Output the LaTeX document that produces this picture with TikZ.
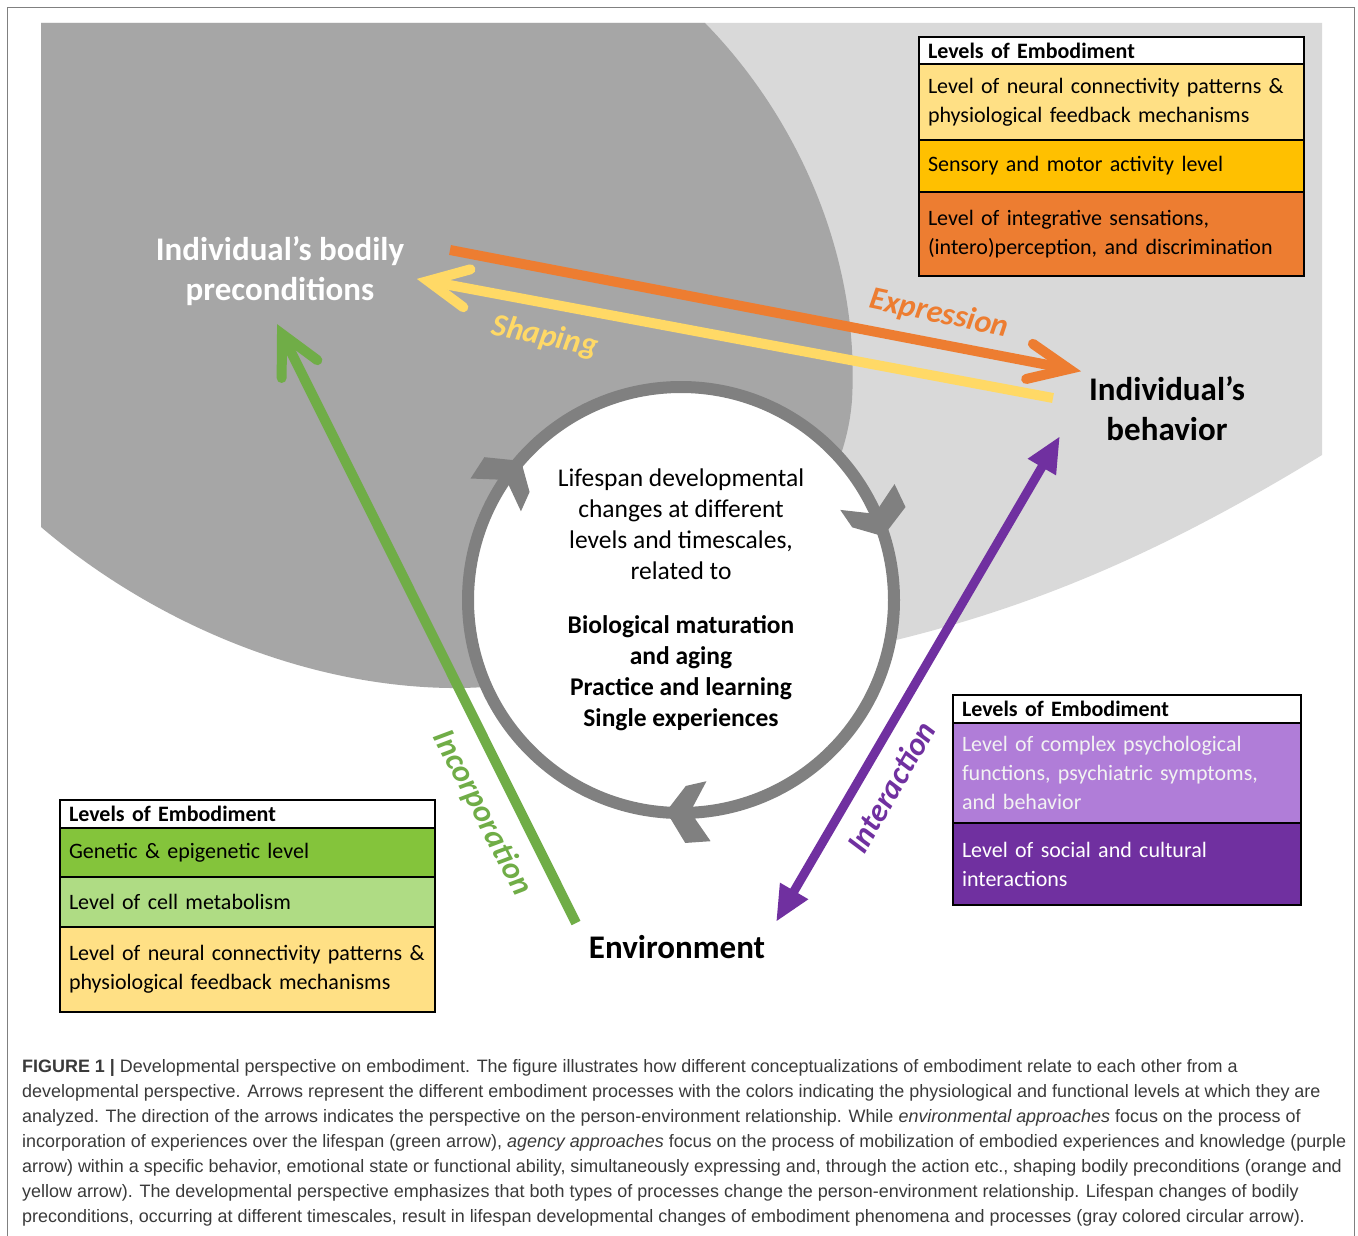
\documentclass[tikz,border=0pt]{standalone}
\usepackage{fontspec}
\setmainfont{Carlito}
\newfontfamily\capfont{Liberation Sans}
\usetikzlibrary{calc,arrows.meta}
\definecolor{dgray}{HTML}{A6A6A6}
\definecolor{lgray}{HTML}{D9D9D9}
\definecolor{ringgray}{HTML}{808080}
\definecolor{orangeA}{HTML}{ED7D31}
\definecolor{yellowA}{HTML}{FFD966}
\definecolor{greenA}{HTML}{70AD47}
\definecolor{purpleA}{HTML}{7030A0}
\definecolor{yellowBox}{HTML}{FFE085}
\definecolor{goldBox}{HTML}{FFC000}
\definecolor{greenBox}{HTML}{84C43B}
\definecolor{lgreenBox}{HTML}{AFDC84}
\definecolor{lpurpleBox}{HTML}{B07DD8}
\definecolor{capgray}{HTML}{3A3A3A}
\definecolor{framegray}{HTML}{808080}
\begin{document}
\begin{tikzpicture}[x=1pt,y=1pt,
  lvbox/.style={draw=black, line width=1.8pt, outer sep=0pt, anchor=north west,
    inner xsep=9pt, inner ysep=0pt, align=left, font=\fontsize{22}{29}\selectfont},
  lvhead/.style={lvbox, fill=white, minimum height=28pt, font=\bfseries\fontsize{22}{29}\selectfont},
  bigtxt/.style={align=center, font=\bfseries\fontsize{33}{40}\selectfont},
  proclab/.style={font=\bfseries\itshape\fontsize{32}{38}\selectfont, inner sep=0pt},
  shaft/.style={line width=10pt},
  chev/.style={line width=10pt, line cap=round, line join=miter},
  capline/.style={anchor=base west, inner sep=0pt, text=capgray, font=\capfont\fontsize{17.95}{25}\selectfont}
]
\useasboundingbox (0,0) rectangle (1358,-1236);
\fill[white] (0,0) rectangle (1358,-1236);
\draw[framegray, line width=1.4pt] (7.5,-1240) -- (7.5,-7.5) -- (1354.5,-7.5) -- (1354.5,-1240);

% background regions
\fill[lgray] (41,-23) -- (1322,-23) -- (1322,-455) .. controls (1150,-560) and (1000,-625) .. (800,-660) -- (600,-500) -- cycle;
\fill[dgray] (41,-23) -- (705,-23) .. controls (800,-120) and (860,-260) .. (852,-400)
  .. controls (840,-560) and (650,-690) .. (450,-688)
  .. controls (300,-686) and (150,-620) .. (41,-527) -- cycle;

% main labels
\node[bigtxt, text=white] (ibp) at (280,-271) {Individual’s bodily\\preconditions};
\node[bigtxt] (ib) at (1167,-409) {Individual’s\\behavior};
\node[bigtxt] (env) at (677,-947) {Environment};

% arrow end points
\coordinate (oS) at (450,-250);
\coordinate (oT) at (1069,-369);
\coordinate (yS) at (1053,-398);
\coordinate (yT) at (428,-281);
\coordinate (gS) at (576,-923);
\coordinate (gT) at (282,-334);
\coordinate (pA) at (776,-922);
\coordinate (pB) at (1060,-436);

% orange: expression
\draw[shaft, orangeA] (oS) -- (oT);
\draw[chev, orangeA] ($(oT)!44pt!24:(oS)$) -- (oT) -- ($(oT)!44pt!-24:(oS)$);
% yellow: shaping
\draw[shaft, yellowA] (yS) -- (yT);
\draw[chev, yellowA] ($(yT)!44pt!26:(yS)$) -- (yT) -- ($(yT)!44pt!-26:(yS)$);
% green: incorporation
\draw[shaft, greenA] (gS) -- (gT);
\draw[chev, greenA] ($(gT)!44pt!27:(gS)$) -- (gT) -- ($(gT)!44pt!-27:(gS)$);
% purple: interaction
\draw[line width=9pt, purpleA, {Triangle[length=36pt,width=30pt]}-{Triangle[length=36pt,width=30pt]}] (pA) -- (pB);

\node[proclab, text=orangeA, rotate=-12] (expr) at (939,-314) {Expression};
\node[proclab, text=yellowA, rotate=-12] (shap) at (545,-337) {Shaping};
\node[proclab, text=greenA, rotate=-62.5] (inc) at (482,-813) {Incorporation};
\node[proclab, text=purpleA, rotate=60] (intr) at (891,-787) {Interaction};

% ring
\coordinate (C) at (681,-600);
\draw[ringgray, line width=12pt, fill=white] (C) circle[radius=213pt];
\foreach \a in {139,17.5,266}
  \fill[ringgray]
    ($(C)+(\a:212)$) -- ($(C)+({\a+5}:243)$) -- ($(C)+({\a+11}:243)$) -- ($(C)+({\a+6.5}:212)$)
    -- ($(C)+({\a+12}:183)$) -- ($(C)+({\a+5.5}:186)$) -- cycle;
\node[align=center, font=\fontsize{25.5}{31}\selectfont] (ctext) at (681,-600)
  {Lifespan developmental\\changes at different\\levels and timescales,\\related to\\[23pt]
   \textbf{Biological maturation}\\\textbf{and aging}\\\textbf{Practice and learning}\\\textbf{Single experiences}};

% top box
\node[lvhead, text width=367pt, minimum height=27pt] (t0) at (919,-37) {Levels of Embodiment};
\node[lvbox, fill=yellowBox, text width=367pt, minimum height=76pt] (t1) at (t0.south west)
  {Level of neural connectivity patterns \&\\physiological feedback mechanisms};
\node[lvbox, fill=goldBox, text width=367pt, minimum height=52pt] (t2) at (t1.south west)
  {Sensory and motor activity level};
\node[lvbox, fill=orangeA, text width=367pt, minimum height=84pt] (t3) at (t2.south west)
  {Level of integrative sensations,\\(intero)perception, and discrimination};

% bottom-left box
\node[lvhead, text width=357pt] (b0) at (60,-800) {Levels of Embodiment};
\node[lvbox, fill=greenBox, text width=357pt, minimum height=49pt] (b1) at (b0.south west)
  {Genetic \& epigenetic level};
\node[lvbox, fill=lgreenBox, text width=357pt, minimum height=50pt] (b2) at (b1.south west)
  {Level of cell metabolism};
\node[lvbox, fill=yellowBox, text width=357pt, minimum height=85pt] (b3) at (b2.south west)
  {Level of neural connectivity patterns \&\\physiological feedback mechanisms};

% bottom-right box
\node[lvhead, text width=330pt] (r0) at (953,-695) {Levels of Embodiment};
\node[lvbox, fill=lpurpleBox, text=white!95!black, text width=330pt, minimum height=100pt] (r1) at (r0.south west)
  {Level of complex psychological\\functions, psychiatric symptoms,\\and behavior};
\node[lvbox, fill=purpleA, text=white, text width=330pt, minimum height=82pt] (r2) at (r1.south west)
  {Level of social and cultural\\interactions};

% caption
\node[capline] (c1) at (22,-1072) {\textbf{FIGURE 1 |} Developmental perspective on embodiment. The figure illustrates how different conceptualizations of embodiment relate to each other from a};
\node[capline] (c2) at (22,-1097) {developmental perspective. Arrows represent the different embodiment processes with the colors indicating the physiological and functional levels at which they are};
\node[capline] (c3) at (22,-1122) {analyzed. The direction of the arrows indicates the perspective on the person-environment relationship. While \textit{environmental approaches} focus on the process of};
\node[capline] (c4) at (22,-1147) {incorporation of experiences over the lifespan (green arrow), \textit{agency approaches} focus on the process of mobilization of embodied experiences and knowledge (purple};
\node[capline] (c5) at (22,-1172) {arrow) within a specific behavior, emotional state or functional ability, simultaneously expressing and, through the action etc., shaping bodily preconditions (orange and};
\node[capline] (c6) at (22,-1197) {yellow arrow). The developmental perspective emphasizes that both types of processes change the person-environment relationship. Lifespan changes of bodily};
\node[capline] (c7) at (22,-1222) {preconditions, occurring at different timescales, result in lifespan developmental changes of embodiment phenomena and processes (gray colored circular arrow).};
\end{tikzpicture}
\end{document}
